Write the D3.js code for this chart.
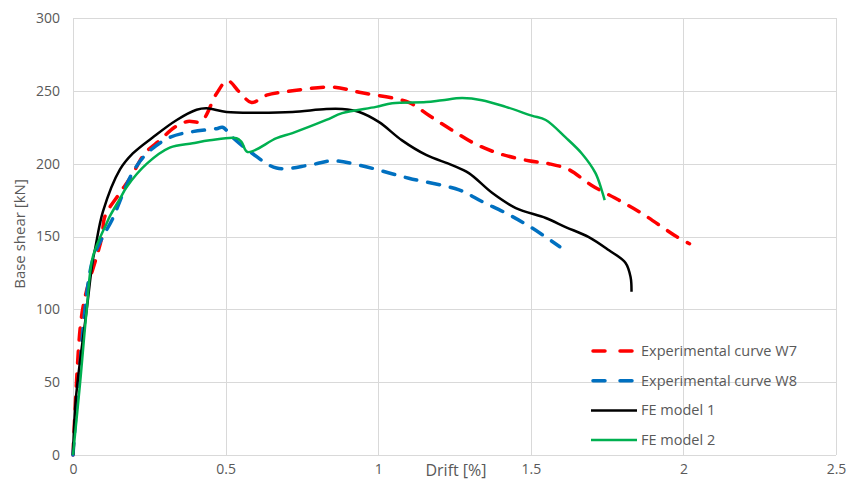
<!DOCTYPE html>
<html>
<head>
<meta charset="utf-8">
<script src="https://cdn.jsdelivr.net/npm/d3@7"></script>
<style>
	body { margin: 0; background: #fff; }
	text { font-family: "Open Sans", "Liberation Sans", Arial, sans-serif; fill: #595959; }
</style>
</head>
<body>
<svg id="chart" width="847" height="481"></svg>
<script>
// drift [%] and base shear [kN]
var w7Drift = [0, 0.023, 0.039, 0.094, 0.105, 0.154, 0.193, 0.235, 0.284, 0.333, 0.376, 0.42, 0.47, 0.506, 0.546, 0.585, 0.634, 0.719, 0.85, 0.938, 1.10, 1.167, 1.242, 1.314, 1.395, 1.493, 1.559, 1.624, 1.70, 1.788, 1.863, 1.977, 2.02];
var w7Shear = [0, 86, 108, 149, 164, 180, 192, 207, 216, 225, 229, 229, 248, 257, 249, 242, 247, 250, 252.6, 249, 242, 233, 223, 214, 207, 202, 200, 196, 185, 175, 166, 150, 145];

var w8Drift = [0, 0.013, 0.062, 0.098, 0.127, 0.193, 0.242, 0.317, 0.392, 0.47, 0.49, 0.523, 0.588, 0.667, 0.775, 0.85, 0.938, 1.10, 1.265, 1.34, 1.428, 1.503, 1.595];
var w8Shear = [0, 36, 132, 150, 161, 193, 207, 218, 222, 224, 225, 218, 207, 197, 199, 202, 199, 190, 182, 174, 165, 156, 143];

var fe1Drift = [0, 0.01, 0.045, 0.065, 0.072, 0.098, 0.154, 0.196, 0.261, 0.34, 0.405, 0.438, 0.503, 0.611, 0.719, 0.83, 0.882, 0.938, 1.003, 1.078, 1.157, 1.242, 1.297, 1.373, 1.451, 1.549, 1.614, 1.69, 1.755, 1.81, 1.827, 1.83];
var fe1Shear = [0, 40, 100, 134, 141, 167, 196, 207, 218, 230, 237, 238, 235.5, 235, 235.5, 237.5, 237.5, 235.5, 228.5, 216, 206, 199, 193.5, 180, 169.5, 162.7, 156.5, 149.6, 140.7, 132, 122, 112];

var fe2Drift = [0, 0.023, 0.045, 0.065, 0.11, 0.121, 0.154, 0.176, 0.242, 0.317, 0.392, 0.448, 0.536, 0.552, 0.572, 0.667, 0.719, 0.83, 0.882, 0.993, 1.046, 1.157, 1.21, 1.275, 1.34, 1.418, 1.503, 1.549, 1.614, 1.667, 1.712, 1.732, 1.742];
var fe2Shear = [0, 49, 100, 136, 159, 164, 176, 184, 200, 211, 214, 216, 217.5, 215, 208, 217.5, 221, 230, 234.7, 239, 241.5, 242.3, 243.6, 245, 243.6, 239, 233, 230, 218, 207, 193.5, 182, 175];

var seriesNames = ["Experimental curve W7", "Experimental curve W8", "FE model 1", "FE model 2"];
var seriesColors = ["#ff0000", "#0070c0", "#000000", "#00b050"];
var seriesDashed = [true, true, false, false];

var xTicks = [0, 0.5, 1, 1.5, 2, 2.5];
var yTicks = [0, 50, 100, 150, 200, 250, 300];

var svg = d3.select("#chart");

var plotLeft = 73, plotRight = 836, plotTop = 18, plotBottom = 455;

var x = d3.scaleLinear().domain([0, 2.5]).range([plotLeft, plotRight]);
var y = d3.scaleLinear().domain([0, 300]).range([plotBottom, plotTop]);

// gridlines
svg.append("g")
	.selectAll("line")
	.data(yTicks)
.enter().append("line")
	.attr("x1", plotLeft).attr("x2", plotRight)
	.attr("y1", (d) => Math.round(y(d)) + 0.5).attr("y2", (d) => Math.round(y(d)) + 0.5)
	.style("stroke", "#d9d9d9");

svg.append("g")
	.selectAll("line")
	.data(xTicks)
.enter().append("line")
	.attr("x1", (d) => Math.round(x(d)) + 0.5).attr("x2", (d) => Math.round(x(d)) + 0.5)
	.attr("y1", plotTop).attr("y2", plotBottom)
	.style("stroke", "#d9d9d9");

// tick labels
var yAxis = svg.append("g")
	.attr("transform", "translate(" + (plotLeft - 13) + ",0)")
	.call(d3.axisLeft(y).tickValues(yTicks).tickSize(0).tickPadding(0));
var xAxis = svg.append("g")
	.attr("transform", "translate(0," + (plotBottom + 9) + ")")
	.call(d3.axisBottom(x).tickValues(xTicks).tickSize(0).tickPadding(0)
		.tickFormat((d) => d3.format("")(d)));

[yAxis, xAxis].forEach((a) => {
	a.select(".domain").remove();
	a.selectAll("text")
		.attr("fill", "#595959")
		.style("font-size", "14px")
		.style("font-family", '"Open Sans", "Liberation Sans", Arial, sans-serif');
});

// axis titles
svg.append("text")
	.attr("x", 456)
	.attr("y", 476)
	.attr("text-anchor", "middle")
	.style("font-size", "16px")
	.text("Drift [%]");

svg.append("text")
	.attr("transform", "translate(25,234) rotate(-90)")
	.attr("text-anchor", "middle")
	.style("font-size", "15px")
	.text("Base shear [kN]");

// curves
var allDrift = [w7Drift, w8Drift, fe1Drift, fe2Drift];
var allShear = [w7Shear, w8Shear, fe1Shear, fe2Shear];

var line = d3.line()
	.x((d) => x(d[0]))
	.y((d) => y(d[1]))
	.curve(d3.curveCatmullRom.alpha(0.5));

allDrift.forEach((drift, i) => {
	var pts = drift.map((d, j) => [d, allShear[i][j]]);
	svg.append("path")
		.datum(pts)
		.attr("d", line)
		.style("fill", "none")
		.style("stroke", seriesColors[i])
		.style("stroke-width", seriesDashed[i] ? 3.5 : 2.5)
		.style("stroke-dasharray", seriesDashed[i] ? "12,11" : null)
		.style("stroke-linecap", seriesDashed[i] ? "round" : "butt")
		.style("stroke-linejoin", "round");
});

// legend
var legend = svg.append("g")
	.selectAll("g")
	.data(seriesNames)
.enter().append("g")
	.attr("transform", (d, i) => "translate(591," + (351 + i * 29.7) + ")");

legend.append("line")
	.attr("x1", (d, i) => seriesDashed[i] ? 2 : 0)
	.attr("x2", 46)
	.style("stroke", (d, i) => seriesColors[i])
	.style("stroke-width", (d, i) => seriesDashed[i] ? 3.5 : 2.5)
	.style("stroke-dasharray", (d, i) => seriesDashed[i] ? "12,15" : null)
	.style("stroke-linecap", (d, i) => seriesDashed[i] ? "round" : "butt");

legend.append("text")
	.attr("x", 50)
	.attr("y", 5)
	.style("font-size", "14.5px")
	.text((d) => d);
</script>
</body>
</html>
